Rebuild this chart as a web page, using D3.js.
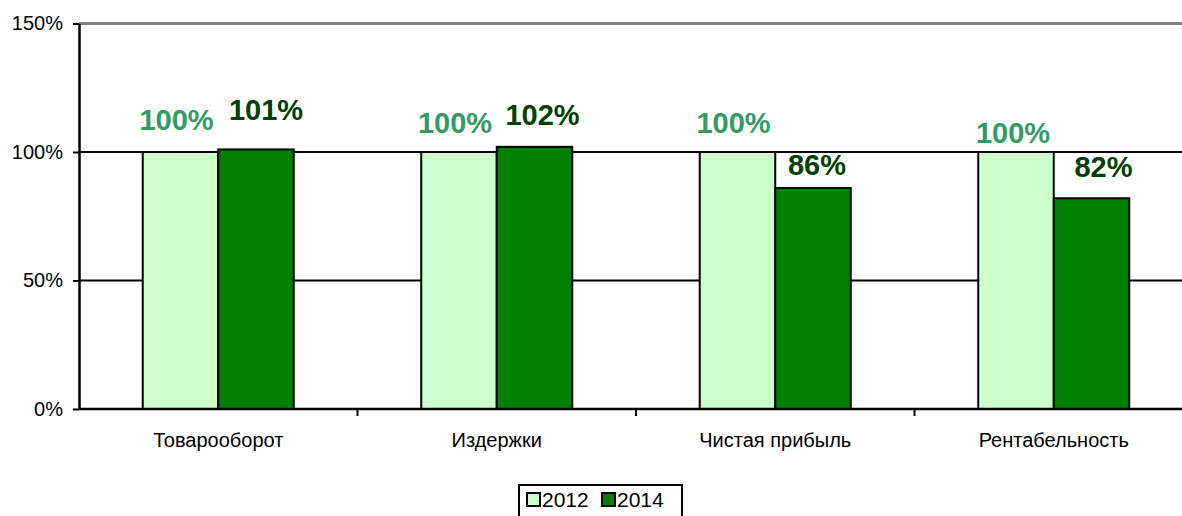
<!DOCTYPE html>
<html>
<head>
<meta charset="utf-8">
<script src="https://cdn.jsdelivr.net/npm/d3@7"></script>
<style>
  body { margin: 0; background: #fff; }
  svg { display: block; font-family: Arial, "Liberation Sans", sans-serif; }
</style>
</head>
<body>
<svg id="chart" width="1182" height="516"></svg>
<script>
const categories = ['Товарооборот', 'Издержки', 'Чистая прибыль', 'Рентабельность'];
const seriesNames = ['2012', '2014'];
const values2012 = [100, 100, 100, 100];
const values2014 = [101, 102, 86, 82];
const yTicks = [0, 50, 100, 150];

// manual label nudges (dx, dy) like the hand-placed labels in the original
const labelNudge = {
  '2012': [[-4, -22], [-4, -19], [-4, -19], [-3, -9]],
  '2014': [[10, -29], [8, -22], [4, -13], [12, -21]]
};

const colors = { '2012': '#ccffcc', '2014': '#008000' };
const labelColors = { '2012': '#339966', '2014': '#004000' };

const svg = d3.select('#chart');
const plotLeft = 79, plotTop = 23.5, plotBottom = 409;
const step = 278.5;

const x0 = d3.scaleBand()
  .domain(categories)
  .range([plotLeft, plotLeft + step * categories.length])
  .padding(0);

const x1 = d3.scaleBand()
  .domain(seriesNames)
  .range([0, x0.bandwidth()])
  .paddingInner(0)
  .paddingOuter(0.844);

const y = d3.scaleLinear()
  .domain([0, 150])
  .range([plotBottom, plotTop]);

// gridlines
svg.append('g')
  .selectAll('line')
  .data(yTicks.filter(d => d > 0))
  .enter()
  .append('line')
  .attr('x1', plotLeft)
  .attr('x2', 1182)
  .attr('y1', d => y(d))
  .attr('y2', d => y(d))
  .attr('stroke', d => d === 150 ? '#808080' : '#000')
  .attr('stroke-width', d => d === 150 ? 3 : 2);

const data = categories.map((c, i) => ({
  category: c,
  i,
  values: [
    { key: '2012', value: values2012[i] },
    { key: '2014', value: values2014[i] }
  ]
}));

// bars
const groups = svg.append('g')
  .selectAll('g')
  .data(data)
  .enter()
  .append('g')
  .attr('transform', d => `translate(${x0(d.category)},0)`);

groups.selectAll('rect')
  .data(d => d.values)
  .enter()
  .append('rect')
  .attr('x', d => x1(d.key))
  .attr('y', d => y(d.value))
  .attr('width', x1.bandwidth())
  .attr('height', d => plotBottom - y(d.value))
  .attr('fill', d => colors[d.key])
  .attr('stroke', '#000')
  .attr('stroke-width', 2);

// value labels
groups.selectAll('text')
  .data(d => d.values.map(v => ({ ...v, i: d.i })))
  .enter()
  .append('text')
  .attr('x', d => x1(d.key) + x1.bandwidth() / 2 + labelNudge[d.key][d.i][0])
  .attr('y', d => y(d.value) + labelNudge[d.key][d.i][1])
  .attr('text-anchor', 'middle')
  .attr('font-size', 29)
  .attr('font-weight', 'bold')
  .attr('fill', d => labelColors[d.key])
  .text(d => d.value + '%');

// Y axis
const yAxis = svg.append('g')
  .attr('transform', `translate(${plotLeft},0)`)
  .call(d3.axisLeft(y).tickValues(yTicks).tickFormat(d => d + '%').tickSizeInner(6).tickSizeOuter(0).tickPadding(10));
yAxis.select('.domain').attr('stroke', '#000').attr('stroke-width', 2.5);
yAxis.selectAll('.tick line').attr('stroke', '#000').attr('stroke-width', 2);
yAxis.selectAll('.tick text').attr('font-size', 20).attr('fill', '#000').attr('font-family', 'Arial, "Liberation Sans", sans-serif');

// X axis
const xAxis = svg.append('g')
  .attr('transform', `translate(0,${plotBottom})`)
  .call(d3.axisBottom(x0).tickSize(0).tickPadding(24));
xAxis.select('.domain').attr('stroke', '#000').attr('stroke-width', 2.5).attr('d', `M${plotLeft},0H1182`);
xAxis.selectAll('.tick text').attr('font-size', 20).attr('fill', '#000').attr('font-family', 'Arial, "Liberation Sans", sans-serif');

// tick marks at category boundaries
xAxis.append('g')
  .selectAll('line')
  .data(categories.slice(1))
  .enter()
  .append('line')
  .attr('x1', d => x0(d))
  .attr('x2', d => x0(d))
  .attr('y1', 0)
  .attr('y2', 7)
  .attr('stroke', '#000')
  .attr('stroke-width', 2);

// legend
const legend = svg.append('g').attr('transform', 'translate(519,485)');
legend.append('rect')
  .attr('width', 163)
  .attr('height', 40)
  .attr('fill', '#fff')
  .attr('stroke', '#000')
  .attr('stroke-width', 2);

const items = legend.selectAll('g.item')
  .data(seriesNames)
  .enter()
  .append('g')
  .attr('transform', (d, i) => `translate(${8 + i * 75},8)`);

items.append('rect')
  .attr('width', 13)
  .attr('height', 13)
  .attr('fill', d => colors[d])
  .attr('stroke', '#000')
  .attr('stroke-width', 2);

items.append('text')
  .attr('x', 15)
  .attr('y', 14)
  .attr('font-size', 21)
  .attr('fill', '#000')
  .text(d => d);
</script>
</body>
</html>
